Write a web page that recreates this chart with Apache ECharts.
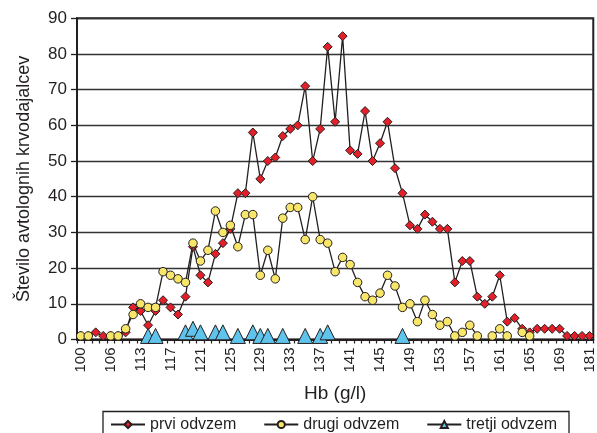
<!DOCTYPE html>
<html><head><meta charset="utf-8">
<script src="https://cdn.jsdelivr.net/npm/echarts@6/dist/echarts.min.js"></script>
<style>html,body{margin:0;padding:0;background:#fff}#c{width:597px;height:433px}</style>
</head><body><div id="c"></div>
<script>
// Hb categories (g/l)
const hb = [100,101,102,104,106,107,109,111,113,114,115,116,117,118,119,120,121,122,123,124,125,126,127,128,129,130,131,132,133,134,135,136,137,138,139,140,141,142,143,144,145,146,147,148,149,150,151,152,153,154,155,156,157,158,159,160,161,162,163,164,165,166,167,168,169,172,175,178,181];
// Number of autologous donors
const prvi = [1,1,2,1,1,1,2,9,8,4,8,11,9,7,12,26,18,16,24,27,31,41,41,58,45,50,51,57,59,60,71,50,59,82,61,85,53,52,64,50,55,61,48,41,32,31,35,33,31,31,16,22,22,12,10,12,18,5,6,3,2,3,3,3,3,1,1,1,1];
const drugi = [1,1,null,null,1,1,3,7,10,9,9,19,18,17,16,27,22,25,36,30,32,26,35,35,18,25,17,34,37,37,28,40,28,27,19,23,21,16,12,11,13,18,15,9,10,5,11,7,4,5,1,2,4,1,null,1,3,1,null,2,1,null,null,null,null,null,null,null,null];
const tretji = [null,null,null,null,null,null,null,null,null,1,1,null,null,null,2,3,2,null,2,2,null,1,null,2,1,1,null,1,null,null,1,null,1,2,null,null,null,null,null,null,null,null,null,1,null,null,null,null,null,null,null,null,null,null,null,null,null,null,null,null,null,null,null,null,null,null,null,null,null];
const seriesNames = ['prvi odvzem','drugi odvzem','tretji odvzem'];
const yMin = 0, yMax = 90, yStep = 10;

const FONT = "'Liberation Sans', Arial, Helvetica, sans-serif";
const INK = '#231f20';
const chart = echarts.init(document.getElementById('c'), null, {renderer:'canvas'});
const lineStyle = {color: INK, width: 1.3};
chart.setOption({
  animation: false,
  backgroundColor: '#fff',
  textStyle: {fontFamily: FONT, color: INK},
  grid: {left: 77, top: 18.3, width: 521.5, height: 321.2, show: true, borderColor: INK, borderWidth: 2, backgroundColor: 'transparent'},
  legend: {
    left: 103, top: 411.5, orient: 'horizontal',
    borderColor: INK, borderWidth: 1.3, padding: [5, 12, 14, 7],
    itemGap: 27, itemWidth: 34, itemHeight: 9,
    textStyle: {fontSize: 16, color: INK, fontFamily: FONT},
    data: seriesNames
  },
  xAxis: {
    type: 'category', data: hb, boundaryGap: true,
    name: 'Hb (g/l)', nameLocation: 'middle', nameGap: 45,
    nameTextStyle: {fontSize: 19, color: INK, fontFamily: FONT},
    axisLine: {lineStyle: {color: INK, width: 2}},
    axisTick: {show: true, interval: 0, length: 4, lineStyle: {color: INK, width: 1.2}},
    axisLabel: {interval: 3, rotate: 90, margin: 8, fontSize: 15, color: INK, fontFamily: FONT},
    splitLine: {show: false}
  },
  yAxis: {
    type: 'value', min: yMin, max: yMax, interval: yStep,
    name: 'Število avtolognih krvodajalcev', nameLocation: 'middle', nameGap: 44, nameRotate: 90,
    nameTextStyle: {fontSize: 18, color: INK, fontFamily: FONT},
    axisLine: {show: true, lineStyle: {color: INK, width: 2}},
    axisTick: {show: true, length: 6, lineStyle: {color: INK, width: 1.3}},
    axisLabel: {margin: 10, fontSize: 17, color: INK, fontFamily: FONT},
    splitLine: {show: true, lineStyle: {color: '#333', width: 1.3}}
  },
  series: [
    {name: seriesNames[0], type: 'line', data: prvi, symbol: 'diamond', symbolSize: 9, showAllSymbol: true,
     lineStyle: lineStyle, itemStyle: {color: '#e3202a', borderColor: INK, borderWidth: 1}, z: 2},
    {name: seriesNames[1], type: 'line', data: drugi, symbol: 'circle', symbolSize: 8.5, showAllSymbol: true, connectNulls: false,
     lineStyle: lineStyle, itemStyle: {color: '#f8e66a', borderColor: INK, borderWidth: 1}, z: 3},
    {name: seriesNames[2], type: 'line', data: tretji, symbol: 'triangle', symbolSize: 15, showAllSymbol: true, connectNulls: false,
     lineStyle: lineStyle, itemStyle: {color: '#5ec4ec', borderColor: INK, borderWidth: 1}, z: 4}
  ]
});
</script>
</body></html>
